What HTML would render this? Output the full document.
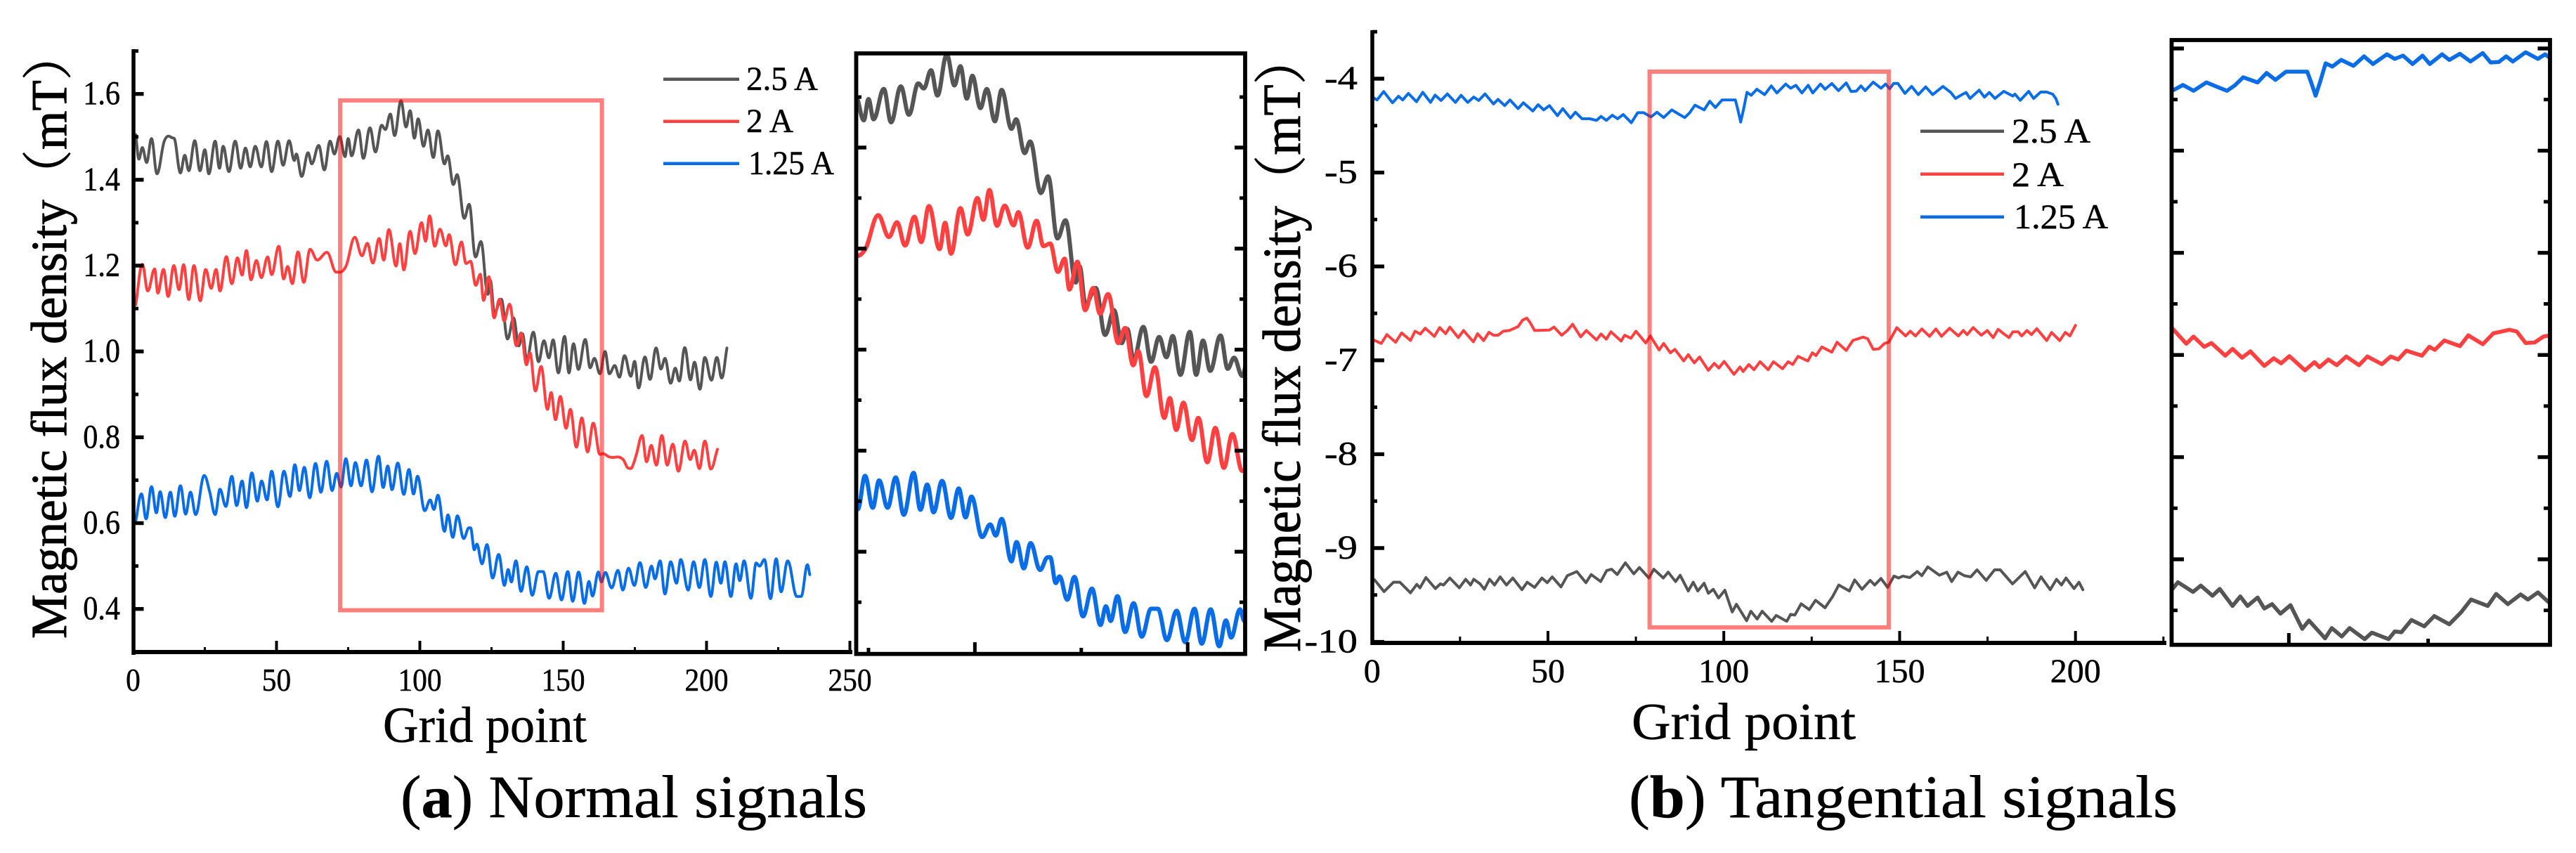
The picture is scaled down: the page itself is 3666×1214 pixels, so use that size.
<!DOCTYPE html>
<html lang="en">
<head>
<meta charset="utf-8">
<title>Magnetic flux density: normal and tangential signals</title>
<style>
  html,body{margin:0;padding:0;background:#fff;}
  svg{display:block;font-family:"Liberation Serif","Noto Serif CJK SC",serif;fill:#000;}
  text{stroke:#000;stroke-width:0.5px;}
  text.title{stroke-width:0.9px;}
</style>
</head>
<body>
<svg id="figure" xmlns="http://www.w3.org/2000/svg" width="3666" height="1214" viewBox="0 0 3666 1214">
  <rect x="0" y="0" width="3666" height="1214" fill="#fff"/>
  <defs>
    <clipPath id="clip-normal-zoom"><rect x="1219" y="76" width="553" height="855"/></clipPath>
    <clipPath id="clip-tangential-zoom"><rect x="3090" y="57" width="539" height="861"/></clipPath>
  </defs>

  <g id="normal-main"></g>
  <g id="normal-zoom"></g>
  <g id="tangential-main"></g>
  <g id="tangential-zoom"></g>

  <text class="title" transform="translate(94,909) rotate(-90)" font-size="72" textLength="866" lengthAdjust="spacingAndGlyphs">Magnetic flux density（mT）</text>
  <text x="545" y="1056" font-size="72" textLength="290" lengthAdjust="spacingAndGlyphs">Grid point</text>
  <text x="570" y="1163" font-size="86" textLength="664" lengthAdjust="spacingAndGlyphs">(<tspan font-weight="bold">a</tspan>) Normal signals</text>

  <text class="title" transform="translate(1850,928) rotate(-90)" font-size="76" textLength="880" lengthAdjust="spacingAndGlyphs">Magnetic flux density（mT）</text>
  <text x="2322" y="1052" font-size="74" textLength="319" lengthAdjust="spacingAndGlyphs">Grid point</text>
  <text x="2318" y="1163" font-size="86" textLength="781" lengthAdjust="spacingAndGlyphs">(<tspan font-weight="bold">b</tspan>) Tangential signals</text>

  <g>
    <g>
      <line x1="944" x2="1052" y1="112.7" y2="112.7" stroke="#555" stroke-width="4.5"/>
      <text x="1062" y="128" font-size="48" textLength="102" lengthAdjust="spacingAndGlyphs">2.5 A</text>
    </g>
    <g>
      <line x1="944" x2="1052" y1="172.7" y2="172.7" stroke="#ff4040" stroke-width="4.5"/>
      <text x="1062" y="188" font-size="48" textLength="67" lengthAdjust="spacingAndGlyphs">2 A</text>
    </g>
    <g>
      <line x1="944" x2="1052" y1="232.7" y2="232.7" stroke="#0a6de6" stroke-width="4.5"/>
      <text x="1065" y="248" font-size="48" textLength="122" lengthAdjust="spacingAndGlyphs">1.25 A</text>
    </g>
  </g>

  <g>
    <g>
      <line x1="2733" x2="2852" y1="186.7" y2="186.7" stroke="#555" stroke-width="4.5"/>
      <text x="2863" y="203" font-size="50" textLength="112" lengthAdjust="spacingAndGlyphs">2.5 A</text>
    </g>
    <g>
      <line x1="2733" x2="2852" y1="247.7" y2="247.7" stroke="#ff4040" stroke-width="4.5"/>
      <text x="2863" y="265" font-size="50" textLength="74" lengthAdjust="spacingAndGlyphs">2 A</text>
    </g>
    <g>
      <line x1="2733" x2="2852" y1="308.7" y2="308.7" stroke="#0a6de6" stroke-width="4.5"/>
      <text x="2866" y="325" font-size="50" textLength="134" lengthAdjust="spacingAndGlyphs">1.25 A</text>
    </g>
  </g>
</svg>

<script>
// ---------- Normal signals: values ----------
const normalGrid25 = [0.9,2,3.2,4.7,6.4,8.3,10.9,14.2,16.5,18,19.4,21.5,23.3,25,26.4,28.6,30.1,31.4,33.4,35.6,37.5,39.2,40.8,42.6,44.7,46.5,48.3,50.5,52.3,54.4,56.2,56.9,58.8,61,62.3,64.7,66.7,68.7,70.2,72,73.9,75,76.2,78.6,80.3,82.6,84.5,86.7,88,89.7,91.2,93.4,95.2,96.6,98.1,99.4,101.3,102.8,104.7,106.3,108.6,109.7,111.7,113,115.5,117.2,119.4,121.3,123.7,124.6,126,128.4,130.6,132.7,134.5,135.8,137.3,139.6,141.4,143.3,145,146.5,148.3,150.5,152,153.6,155.3,157.7,159.4,160.9,162.8,164.6,166.1,168,169.6,171.4,173.6,174.9,176.3,178.5,180.3,182.4,184.1,185.5,187.5,189.1,190.5,192.4,194.4,195.8,197.7,199.4,201.7,203.6,205.3,207.1];
const normalFlux25 = [1.505,1.448,1.475,1.44,1.496,1.414,1.491,1.497,1.416,1.457,1.421,1.491,1.421,1.47,1.414,1.49,1.427,1.478,1.419,1.49,1.427,1.474,1.43,1.478,1.43,1.489,1.419,1.49,1.434,1.491,1.445,1.46,1.408,1.463,1.437,1.48,1.423,1.49,1.46,1.501,1.454,1.496,1.456,1.516,1.45,1.521,1.465,1.527,1.517,1.553,1.503,1.584,1.523,1.561,1.497,1.542,1.478,1.516,1.452,1.514,1.437,1.456,1.389,1.412,1.31,1.343,1.22,1.256,1.133,1.165,1.09,1.122,1.029,1.078,1.013,1.041,0.98,1.045,0.976,1.025,0.985,1.027,0.95,1.035,0.95,1.018,0.958,1.028,0.962,0.984,0.948,1,0.948,0.967,0.94,0.99,0.942,0.977,0.915,0.987,0.935,1.008,0.959,0.984,0.926,0.961,0.931,1.009,0.934,0.975,0.912,0.986,0.933,0.986,0.938,1.008];

const normalGrid20 = [0.9,3.2,5.1,7.5,8.6,10.6,12.2,14.2,16,17.6,19.4,21.2,23.4,25.3,27.2,28.9,30.3,32.5,34.4,36.4,38,39.5,41.1,43,44.7,46.9,48.3,50.8,52.5,53.9,55.5,57.5,59.5,61.7,64.2,67.6,70.8,74.2,77.3,79.8,81.7,83.6,85.8,87.4,89.2,91.7,93,94.4,96.6,98.3,100.6,102,103.4,105.2,107,109.1,110.2,112.4,114.5,116.1,117.7,119.5,121.1,122.2,124.1,125.9,127.8,129.4,131.3,133.7,135.3,137.2,138.4,140.3,142.3,144.5,145.8,147.3,149,151,152.5,154.6,156.5,158.5,160.5,162.8,163.8,166.1,170.8,172.8,173.9,175.5,177.5,179.1,180.7,182.5,184.4,186.3,188.2,190.2,192.5,194.3,195.7,197.5,199.4,201.5,203.8];
const normalFlux20 = [1.109,1.203,1.141,1.192,1.136,1.191,1.128,1.2,1.144,1.202,1.121,1.2,1.118,1.191,1.147,1.191,1.141,1.221,1.158,1.218,1.178,1.235,1.167,1.212,1.172,1.22,1.179,1.245,1.169,1.198,1.158,1.232,1.161,1.238,1.213,1.231,1.185,1.198,1.266,1.223,1.252,1.206,1.263,1.213,1.284,1.199,1.251,1.19,1.28,1.228,1.3,1.257,1.316,1.245,1.285,1.246,1.272,1.202,1.255,1.205,1.21,1.154,1.18,1.119,1.174,1.078,1.122,1.071,1.11,1.013,1.043,0.969,0.997,0.908,0.965,0.865,0.904,0.841,0.895,0.821,0.865,0.777,0.845,0.766,0.833,0.76,0.762,0.754,0.749,0.728,0.729,0.759,0.804,0.743,0.781,0.735,0.804,0.735,0.784,0.721,0.791,0.748,0.77,0.727,0.791,0.726,0.772];

const normalGrid125 = [0.9,2.9,4.5,6.4,8.1,9.4,11.2,13,14.5,16.5,18.3,20,21.8,24.8,26.7,28.6,30.3,32.3,34.4,36.1,38,39.5,41.4,43.3,44.8,46.7,48.3,50.5,52.6,54.7,56.4,58,59.7,61.6,63.6,65.5,67.5,69.4,71,72.5,74.2,76,77.5,79.5,81.4,83.3,85.6,87.2,88.8,90.3,92.3,94.4,96.2,97.8,99.2,101.7,103.6,104.9,106.3,108.6,109.8,111.5,113.1,115.3,117.1,117.7,119,119.9,121.7,123.4,125.4,127.5,129.5,130.8,131.9,133.5,135.3,137.3,139.2,141.4,143,145.1,147.4,149.4,151.6,153.3,155.4,157.4,159,160.2,162.3,163.3,164.7,166.9,169.1,170.8,172.8,174.8,176.8,178.8,180.8,182,183.8,185.5,187.5,189.5,191,193.6,195.5,197.5,199.4,201.5,203.4,205,206.4,208.5,210.3,211.6,213.1,215.5,217.3,218.5,220.2,222.3,224.3,226,228.3,231.5,233,235.2,236];
const normalFlux125 = [0.605,0.668,0.61,0.685,0.624,0.673,0.613,0.672,0.616,0.687,0.621,0.672,0.62,0.711,0.673,0.62,0.679,0.639,0.709,0.641,0.698,0.636,0.717,0.651,0.698,0.654,0.721,0.638,0.721,0.662,0.736,0.676,0.73,0.659,0.739,0.672,0.744,0.676,0.716,0.684,0.75,0.687,0.741,0.687,0.747,0.673,0.756,0.683,0.733,0.678,0.74,0.667,0.725,0.668,0.709,0.629,0.654,0.632,0.665,0.581,0.619,0.567,0.617,0.564,0.589,0.589,0.538,0.551,0.505,0.55,0.472,0.527,0.455,0.492,0.463,0.512,0.441,0.498,0.432,0.487,0.487,0.425,0.483,0.421,0.487,0.418,0.486,0.413,0.464,0.43,0.486,0.463,0.485,0.449,0.49,0.444,0.495,0.455,0.508,0.45,0.5,0.47,0.512,0.435,0.51,0.46,0.515,0.444,0.51,0.45,0.515,0.429,0.509,0.46,0.51,0.429,0.505,0.466,0.512,0.425,0.507,0.5,0.515,0.424,0.517,0.44,0.512,0.429,0.429,0.503,0.48];

// ---------- Tangential signals: values ----------
const tangentialGrid25 = [0.7,3.4,6.1,7.9,10.9,12.7,13.6,15.3,18,19.4,20.3,22.1,24.8,26.6,28,28.9,30.7,31.9,33.4,34.8,36.4,38.2,40,42.6,44.1,46.2,48.3,49.8,51.2,53.7,55.5,58.2,60.8,62.3,65,66.7,68.1,69.7,72,74.4,76,78.7,80.1,82.8,84.2,86.3,87.6,89.9,91.3,92.6,94.4,95.6,97,98.5,100.3,102.4,103.6,106.5,107.7,109.5,110.9,113.6,114.9,117.9,119,120.2,122,124.3,126.1,128.8,130.9,132.7,135.7,137.2,139.3,141.6,142.9,144.7,146.6,148.4,149.7,150.9,152.9,155,156.3,158,161.3,163.4,164.8,166.6,168.4,170.2,172,174.6,177,178.6,182.1,185.7,188.4,190.2,192.8,194.6,196,197.3,199.6,201,202.1];
const tangentialFlux25 = [-9.339,-9.464,-9.364,-9.364,-9.477,-9.387,-9.424,-9.314,-9.432,-9.382,-9.394,-9.319,-9.424,-9.332,-9.394,-9.332,-9.382,-9.439,-9.332,-9.394,-9.307,-9.394,-9.319,-9.444,-9.364,-9.419,-9.319,-9.369,-9.307,-9.414,-9.294,-9.25,-9.369,-9.282,-9.357,-9.24,-9.225,-9.282,-9.157,-9.275,-9.207,-9.319,-9.225,-9.319,-9.257,-9.357,-9.29,-9.457,-9.364,-9.457,-9.374,-9.482,-9.439,-9.532,-9.449,-9.681,-9.599,-9.774,-9.673,-9.756,-9.673,-9.781,-9.718,-9.781,-9.706,-9.714,-9.594,-9.656,-9.556,-9.636,-9.519,-9.394,-9.457,-9.339,-9.439,-9.344,-9.394,-9.324,-9.419,-9.299,-9.319,-9.299,-9.314,-9.25,-9.294,-9.2,-9.289,-9.257,-9.357,-9.257,-9.294,-9.307,-9.232,-9.344,-9.232,-9.232,-9.382,-9.25,-9.424,-9.307,-9.444,-9.332,-9.394,-9.319,-9.432,-9.364,-9.444];

const tangentialGrid20 = [0.7,2.6,4.2,6.7,8.4,10.9,12.2,13.7,15.1,17.7,19.2,20.9,22.1,24.5,26,28.8,30,31.7,33.2,34.5,35.8,37.3,39,41.5,42.8,44,44.9,46.2,50.4,51.7,53.9,55.5,57,59.3,60.9,63.8,65.1,66.6,67.9,70.8,71.8,73.6,75,77.8,79.1,81.6,82.9,84.8,86.1,88.6,89.9,91.6,93.1,95.6,97.3,98.6,100.1,102.9,104.6,105.5,107.1,108.6,110.3,112.6,114.1,116.7,118.3,119.6,121.1,123.9,125.2,126.2,127.9,130.7,132.2,134.8,136.7,139.6,140.9,142.5,144.1,145.7,146.9,149.2,151.7,153,154.5,156.3,158.5,160.3,161.9,164.2,166.7,168.1,169.2,170.9,173.2,174.9,176.6,178,179.7,181.1,182.2,183.7,184.7,186.2,187.5,189,191.8,193.2,195.5,197.1,198.4,200];
const tangentialFlux20 = [-6.788,-6.82,-6.726,-6.808,-6.708,-6.788,-6.69,-6.72,-6.658,-6.745,-6.651,-6.716,-6.646,-6.758,-6.683,-6.803,-6.716,-6.79,-6.701,-6.733,-6.733,-6.69,-6.683,-6.641,-6.571,-6.551,-6.596,-6.683,-6.678,-6.646,-6.733,-6.683,-6.616,-6.75,-6.683,-6.783,-6.72,-6.775,-6.696,-6.795,-6.733,-6.765,-6.69,-6.815,-6.74,-6.89,-6.82,-6.92,-6.883,-7.007,-6.94,-7.027,-6.965,-7.107,-7.032,-7.082,-7.012,-7.15,-7.07,-7.12,-7.045,-7.1,-7.015,-7.1,-7.015,-7.09,-7.015,-7.045,-6.958,-7.007,-6.92,-6.95,-6.858,-6.913,-6.808,-6.895,-6.788,-6.753,-6.77,-6.883,-6.878,-6.82,-6.808,-6.653,-6.74,-6.69,-6.74,-6.666,-6.745,-6.666,-6.745,-6.658,-6.74,-6.683,-6.726,-6.651,-6.733,-6.683,-6.758,-6.67,-6.72,-6.758,-6.696,-6.696,-6.74,-6.683,-6.726,-6.663,-6.79,-6.703,-6.79,-6.703,-6.74,-6.628];

const tangentialGrid125 = [0.6,1.4,3.3,5.8,7.5,8.7,10.3,12.6,14.4,16.6,17.9,19.6,21.4,23.7,25.3,27.2,28.9,30.3,32.1,34.5,35.8,37.7,39.2,41.5,43,45.7,47.2,48.8,50.4,52.7,54.2,56.4,57.8,59.7,61.9,63.8,65.1,66.6,68.3,69.8,71.4,73.7,75.5,77.2,79.3,81,82.9,85.2,87.4,88.9,90.3,91.8,94.4,96,97.6,99.5,103.3,104,104.8,105.6,106.6,107.8,109.4,111.6,113.5,115.1,117.6,119,120.5,122.2,124,125.3,127.5,128.8,130.7,132.6,134.8,136.2,137.7,139,140.2,142.5,144.7,146,147.2,148.3,149.5,151.5,153.4,155.3,157.4,159.4,162.3,164.5,165.9,167.6,168.9,170,172.6,174.1,175.5,177.1,179.6,182.2,182.8,184.3,186.7,188.1,190.1,191.8,193.5,194.4,195];
const tangentialFlux125 = [-4.207,-4.227,-4.137,-4.257,-4.187,-4.227,-4.157,-4.245,-4.145,-4.252,-4.175,-4.232,-4.162,-4.252,-4.177,-4.252,-4.195,-4.232,-4.162,-4.269,-4.22,-4.287,-4.227,-4.319,-4.257,-4.344,-4.277,-4.332,-4.287,-4.394,-4.319,-4.419,-4.357,-4.427,-4.427,-4.444,-4.402,-4.444,-4.389,-4.427,-4.382,-4.469,-4.362,-4.362,-4.407,-4.357,-4.414,-4.332,-4.382,-4.414,-4.362,-4.282,-4.332,-4.24,-4.307,-4.227,-4.227,-4.33,-4.462,-4.33,-4.145,-4.177,-4.112,-4.17,-4.077,-4.152,-4.057,-4.102,-4.07,-4.152,-4.07,-4.152,-4.057,-4.112,-4.052,-4.127,-4.045,-4.137,-4.132,-4.077,-4.127,-4.037,-4.102,-4.057,-4.107,-4.05,-4.05,-4.157,-4.082,-4.17,-4.087,-4.17,-4.082,-4.145,-4.21,-4.172,-4.147,-4.21,-4.122,-4.197,-4.147,-4.21,-4.135,-4.185,-4.165,-4.23,-4.135,-4.21,-4.142,-4.142,-4.165,-4.21,-4.272];

// ---------- Tick values and labels ----------
const normalYMajor = [0.4,0.6,0.8,1.0,1.2,1.4,1.6];
const normalYMinor = [0.3,0.5,0.7,0.9,1.1,1.3,1.5,1.7];
const normalYLabels = ["0.4","0.6","0.8","1.0","1.2","1.4","1.6"];
const normalXMajor = [0,50,100,150,200,250];
const normalXMinor = [25,75,125,175,225];
const normalXLabels = ["0","50","100","150","200","250"];
const normalZoomYMajor = [0.6,0.8,1.0,1.2,1.4];
const normalZoomYMinor = [0.5,0.7,0.9,1.1,1.3,1.5];
const normalZoomXMajor = [100,150];
const normalZoomXMinor = [75,125];
const normalWindowGrid = [72.2,163.5];
const normalWindowFlux = [0.397,1.585];

const tangentialYMajor = [-10,-9,-8,-7,-6,-5,-4];
const tangentialYMinor = [-9.5,-8.5,-7.5,-6.5,-5.5,-4.5,-3.5];
const tangentialYLabels = ["-10","-9","-8","-7","-6","-5","-4"];
const tangentialXMajor = [0,50,100,150,200];
const tangentialXMinor = [25,75,125,175,225];
const tangentialXLabels = ["0","50","100","150","200"];
const tangentialZoomYMajor = [-9,-8,-7,-6,-5,-4];
const tangentialZoomYMinor = [-9.5,-8.5,-7.5,-6.5,-5.5,-4.5];
const tangentialZoomXMajor = [100];
const tangentialZoomXMinor = [125];
const tangentialWindowGrid = [78.9,146.9];
const tangentialWindowFlux = [-9.845,-3.925];

// ---------- Axis functions ----------
const xNormal = g => 189.5 + 4.08 * g;
const yNormal = v => 133.7 + (1.6 - v) * 610.8;
const xNormalZoom = g => 1219 + (g - 72.2) * 6.057;
const yNormalZoom = v => 210 + (1.4 - v) * 719;
const xTangential = g => 1952.7 + 5.005 * g;
const yTangential = v => 112 + (-4 - v) * 133.6;
const xTangentialZoom = g => 3090 + (g - 78.9) * 7.93;
const yTangentialZoom = v => 69 + (-4 - v) * 145.4;

const NS = "http://www.w3.org/2000/svg";
const COLORS = {s25:"#555555", s20:"#ff4040", s125:"#0a6de6"};

function make(tag, parent){
  const el = document.createElementNS(NS, tag);
  parent.appendChild(el);
  return el;
}
function hLine(parent, x1, x2, y, w){
  const el = make("line", parent);
  el.setAttribute("x1", x1); el.setAttribute("x2", x2);
  el.setAttribute("y1", y); el.setAttribute("y2", y);
  el.setAttribute("stroke", "#000"); el.setAttribute("stroke-width", w);
  return el;
}
function vLine(parent, x, y1, y2, w){
  const el = make("line", parent);
  el.setAttribute("x1", x); el.setAttribute("x2", x);
  el.setAttribute("y1", y1); el.setAttribute("y2", y2);
  el.setAttribute("stroke", "#000"); el.setAttribute("stroke-width", w);
  return el;
}
function smoothPath(xs, ys){
  const n = xs.length, d = [], m = [];
  for(let i=0;i<n-1;i++){ d.push((ys[i+1]-ys[i])/((xs[i+1]-xs[i])||1)); }
  for(let i=0;i<n;i++){
    if(i===0) m.push(d[0]);
    else if(i===n-1) m.push(d[n-2]);
    else m.push(d[i-1]*d[i]<=0 ? 0 : (d[i-1]+d[i])/2);
  }
  let s = "M"+xs[0].toFixed(1)+" "+ys[0].toFixed(1);
  for(let i=0;i<n-1;i++){
    const h = (xs[i+1]-xs[i])*0.38;
    s += "C"+(xs[i]+h).toFixed(1)+" "+(ys[i]+m[i]*h).toFixed(1)+" "+(xs[i+1]-h).toFixed(1)+" "+(ys[i+1]-m[i+1]*h).toFixed(1)+" "+xs[i+1].toFixed(1)+" "+ys[i+1].toFixed(1);
  }
  return s;
}
function straightPath(xs, ys){
  return xs.map((x,i)=>(i?"L":"M")+x.toFixed(1)+" "+ys[i].toFixed(1)).join("");
}
function drawSeries(parent, grid, flux, xFn, yFn, color, width, smooth, label, clip){
  const n = Math.min(grid.length, flux.length);
  const xs = grid.slice(0,n).map(xFn), ys = flux.slice(0,n).map(yFn);
  const el = make("path", parent);
  
  
  el.setAttribute("d", smooth ? smoothPath(xs,ys) : straightPath(xs,ys));
  el.setAttribute("fill", "none");
  el.setAttribute("stroke", color);
  el.setAttribute("stroke-width", width);
  el.setAttribute("stroke-linejoin", "round");
  el.setAttribute("stroke-linecap", "round");
  if(clip) el.setAttribute("clip-path", "url(#"+clip+")");
}
function drawWindow(parent, gridRange, fluxRange, xFn, yFn){
  const el = make("rect", parent);
  
  
  const x0 = xFn(gridRange[0]), x1 = xFn(gridRange[1]);
  const y0 = yFn(fluxRange[1]), y1 = yFn(fluxRange[0]);
  el.setAttribute("x", x0); el.setAttribute("y", y0);
  el.setAttribute("width", x1-x0); el.setAttribute("height", y1-y0);
  el.setAttribute("fill", "none");
  el.setAttribute("stroke", "rgba(255,0,0,0.5)");
  el.setAttribute("stroke-width", 6);
}
function label(parent, str, x, y, size, anchor, sx){
  const el = make("text", parent);
  
  
  el.setAttribute("transform", "translate("+x+","+y+") scale("+sx+",1)");
  el.setAttribute("font-size", size);
  el.setAttribute("text-anchor", anchor);
  el.textContent = str;
}

// ---------- Normal main plot ----------
const nm = document.getElementById("normal-main");
drawSeries(nm, normalGrid25, normalFlux25, xNormal, yNormal, COLORS.s25, 4, true, "normal-2-5-a");
drawSeries(nm, normalGrid20, normalFlux20, xNormal, yNormal, COLORS.s20, 4, true, "normal-2-a");
drawSeries(nm, normalGrid125, normalFlux125, xNormal, yNormal, COLORS.s125, 4, true, "normal-1-25-a");
const nmLeft = vLine(nm, 190, 70, 932, 5.5);


const nmBottom = hLine(nm, 188, 1213, 928, 6);


normalYMajor.forEach((v,i)=>{
  const t = hLine(nm, 190, 204.5, yNormal(v), 5.4);
  
  
  label(nm, normalYLabels[i], 171, yNormal(v)+15, 48, "end", 0.88);
});
normalYMinor.forEach(v=>{
  const t = hLine(nm, 190, 197, yNormal(v), 5);
  
  
});
normalXMajor.forEach((g,i)=>{
  const t = vLine(nm, xNormal(g), 912, 928, 4);
  
  
  label(nm, normalXLabels[i], xNormal(g), 983, 46, "middle", 0.9);
});
normalXMinor.forEach(g=>{
  const t = vLine(nm, xNormal(g), 921, 928, 3);
  
  
});
drawWindow(nm, normalWindowGrid, normalWindowFlux, xNormal, yNormal);

// ---------- Normal zoom plot ----------
const nz = document.getElementById("normal-zoom");
drawSeries(nz, normalGrid25, normalFlux25, xNormalZoom, yNormalZoom, COLORS.s25, 6, true, "normal-zoom-2-5-a", "clip-normal-zoom");
drawSeries(nz, normalGrid20, normalFlux20, xNormalZoom, yNormalZoom, COLORS.s20, 6, true, "normal-zoom-2-a", "clip-normal-zoom");
drawSeries(nz, normalGrid125, normalFlux125, xNormalZoom, yNormalZoom, COLORS.s125, 6, true, "normal-zoom-1-25-a", "clip-normal-zoom");
normalZoomYMajor.forEach(v=>{
  [[1218,1233],[1772,1757]].forEach(p=>{
    const t = hLine(nz, p[0], p[1], yNormalZoom(v), 5.4);
    
    
  });
});
normalZoomYMinor.forEach(v=>{
  [[1218,1226],[1772,1764]].forEach(p=>{
    const t = hLine(nz, p[0], p[1], yNormalZoom(v), 5);
    
    
  });
});
normalZoomXMajor.forEach(g=>{
  const t = vLine(nz, xNormalZoom(g), 914, 930, 5);
  
  
});
normalZoomXMinor.forEach(g=>{
  const t = vLine(nz, xNormalZoom(g), 922, 930, 5);
  
  
});
const nzFrame = make("rect", nz);


nzFrame.setAttribute("x", 1218.5); nzFrame.setAttribute("y", 76);
nzFrame.setAttribute("width", 553.5); nzFrame.setAttribute("height", 854.7);
nzFrame.setAttribute("fill", "none"); nzFrame.setAttribute("stroke", "#000"); nzFrame.setAttribute("stroke-width", 5.8);

// ---------- Tangential main plot ----------
const tm = document.getElementById("tangential-main");
drawSeries(tm, tangentialGrid25, tangentialFlux25, xTangential, yTangential, COLORS.s25, 4, false, "tangential-2-5-a");
drawSeries(tm, tangentialGrid20, tangentialFlux20, xTangential, yTangential, COLORS.s20, 4, false, "tangential-2-a");
drawSeries(tm, tangentialGrid125, tangentialFlux125, xTangential, yTangential, COLORS.s125, 4, false, "tangential-1-25-a");
const tmLeft = vLine(tm, 1953, 43, 918, 5.5);


const tmBottom = hLine(tm, 1951, 3083, 915, 6);


tangentialYMajor.forEach((v,i)=>{
  const t = hLine(tm, 1953, 1970, yTangential(v), 5.4);
  
  
  label(tm, tangentialYLabels[i], 1932, yTangential(v)+15, 48, "end", 1.18);
});
tangentialYMinor.forEach(v=>{
  const t = hLine(tm, 1953, 1960, yTangential(v), 5);
  
  
});
tangentialXMajor.forEach((g,i)=>{
  const t = vLine(tm, xTangential(g), 898, 915, 4);
  
  
  label(tm, tangentialXLabels[i], xTangential(g), 971, 48, "middle", 1);
});
tangentialXMinor.forEach(g=>{
  const t = vLine(tm, xTangential(g), 906, 915, 3);
  
  
});
drawWindow(tm, tangentialWindowGrid, tangentialWindowFlux, xTangential, yTangential);

// ---------- Tangential zoom plot ----------
const tz = document.getElementById("tangential-zoom");
drawSeries(tz, tangentialGrid25, tangentialFlux25, xTangentialZoom, yTangentialZoom, COLORS.s25, 5.6, false, "tangential-zoom-2-5-a", "clip-tangential-zoom");
drawSeries(tz, tangentialGrid20, tangentialFlux20, xTangentialZoom, yTangentialZoom, COLORS.s20, 5.6, false, "tangential-zoom-2-a", "clip-tangential-zoom");
drawSeries(tz, tangentialGrid125, tangentialFlux125, xTangentialZoom, yTangentialZoom, COLORS.s125, 5.6, false, "tangential-zoom-1-25-a", "clip-tangential-zoom");
tangentialZoomYMajor.forEach(v=>{
  [[3090,3108],[3629,3611.5]].forEach(p=>{
    const t = hLine(tz, p[0], p[1], yTangentialZoom(v), 5.4);
    
    
  });
});
tangentialZoomYMinor.forEach(v=>{
  [[3090,3099],[3629,3620]].forEach(p=>{
    const t = hLine(tz, p[0], p[1], yTangentialZoom(v), 5);
    
    
  });
});
tangentialZoomXMajor.forEach(g=>{
  const t = vLine(tz, xTangentialZoom(g), 901, 917, 5);
  
  
});
tangentialZoomXMinor.forEach(g=>{
  const t = vLine(tz, xTangentialZoom(g), 909, 917, 5);
  
  
});
const tzFrame = make("rect", tz);


tzFrame.setAttribute("x", 3090.5); tzFrame.setAttribute("y", 57);
tzFrame.setAttribute("width", 538.5); tzFrame.setAttribute("height", 860.7);
tzFrame.setAttribute("fill", "none"); tzFrame.setAttribute("stroke", "#000"); tzFrame.setAttribute("stroke-width", 5.8);
</script>
</body>
</html>
